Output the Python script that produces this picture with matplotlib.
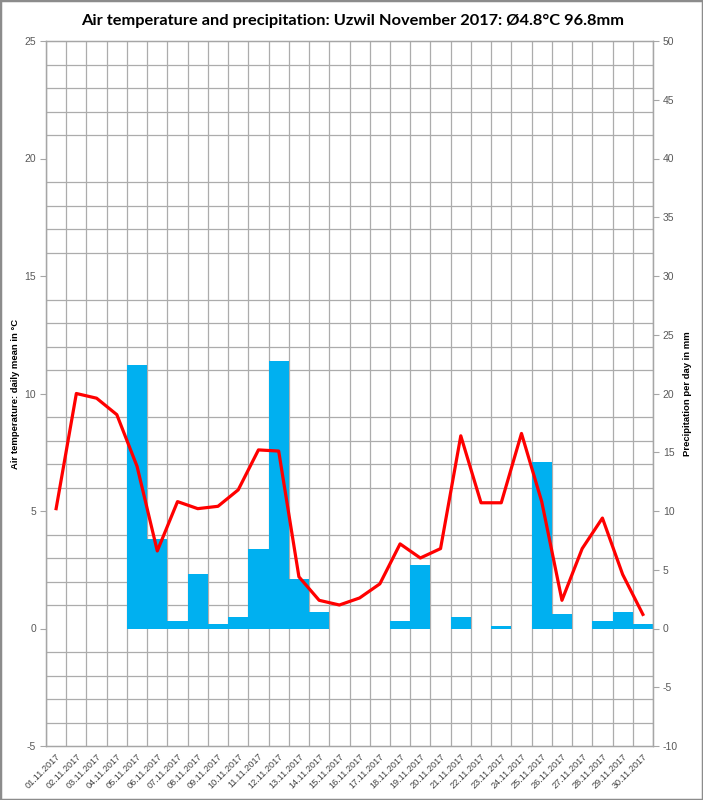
import matplotlib
matplotlib.use("Agg")
import matplotlib.pyplot as plt
from matplotlib.ticker import MultipleLocator, FixedLocator
from matplotlib.patches import Rectangle
import numpy as np

plt.rcParams["axes.unicode_minus"] = False

dates = ["%02d.11.2017" % d for d in range(1, 31)]
temperature = [5.1, 10.0, 9.8, 9.1, 6.9, 3.3, 5.4, 5.1, 5.2, 5.9,
               7.6, 7.55, 2.2, 1.2, 1.0, 1.3, 1.9, 3.6, 3.0, 3.4,
               8.2, 5.35, 5.35, 8.3, 5.4, 1.2, 3.4, 4.7, 2.3, 0.6]
precipitation = [0, 0, 0, 0, 22.4, 7.6, 0.6, 4.6, 0.4, 1.0,
                 6.8, 22.8, 4.2, 1.4, 0, 0, 0, 0.6, 5.4, 0,
                 1.0, 0, 0.2, 0, 14.2, 1.2, 0, 0.6, 1.4, 0.4]
title = "Air temperature and precipitation: Uzwil November 2017: Ø4.8°C 96.8mm"

W, H = 703, 800
fig = plt.figure(figsize=(W / 100, H / 100), dpi=100)
fig.patch.set_facecolor("white")
fig.patches.append(Rectangle((0, 0), 1, 1, transform=fig.transFigure,
                             fill=False, edgecolor="#8c8c8c", lw=2.5))

left, right, top, bottom = 46, 653, 41, 746
ax = fig.add_axes([left / W, 1 - bottom / H, (right - left) / W, (bottom - top) / H])
ax2 = ax.twinx()
x = np.arange(len(dates))

tick_kw = dict(length=4, color="#a6a6a6", labelsize=7.5, labelcolor="#595959", pad=3)
label_kw = dict(fontsize=6.8, fontweight="bold", family="Liberation Sans")

# precipitation axis (right side)
ax.bar(x, precipitation, width=1.0, color="#00B0F0", zorder=2)
ax.set_ylim(-10, 50)
ax.set_xlim(-0.5, len(dates) - 0.5)
ax.yaxis.tick_right()
ax.yaxis.set_label_position("right")
ax.yaxis.set_major_locator(MultipleLocator(5))
ax.yaxis.set_minor_locator(MultipleLocator(2))
ax.set_axisbelow(True)
ax.grid(which="minor", axis="y", color="#acacac", lw=0.9)
ax.xaxis.set_minor_locator(FixedLocator(np.arange(-0.5, len(dates), 1.0)))
ax.grid(which="minor", axis="x", color="#acacac", lw=0.9)
ax.set_xticks(x)
ax.set_xticklabels(dates, rotation=45, ha="right", rotation_mode="anchor",
                   fontsize=6.6, color="#404040", family="Liberation Sans")
ax.tick_params(axis="x", which="both", length=0, pad=4)
ax.tick_params(axis="y", which="major", **tick_kw)
ax.tick_params(axis="y", which="minor", length=0)
for lab in ax.get_yticklabels():
    lab.set_family("Liberation Sans")
ax.set_ylabel("Precipitation per day in mm", rotation=90, **label_kw)
ax.yaxis.set_label_coords(1.049, 0.5)
for s in ax.spines.values():
    s.set_color("#a6a6a6")
    s.set_linewidth(0.9)

# temperature axis (left side)
ax2.plot(x, temperature, color="#ff0000", lw=2.3, zorder=5)
ax2.set_ylim(-5, 25)
ax2.yaxis.tick_left()
ax2.yaxis.set_label_position("left")
ax2.yaxis.set_major_locator(MultipleLocator(5))
ax2.tick_params(axis="y", which="major", **tick_kw)
for lab in ax2.get_yticklabels():
    lab.set_family("Liberation Sans")
ax2.set_ylabel("Air temperature: daily mean in °C", **label_kw)
ax2.yaxis.set_label_coords(-0.043, 0.5)
for s in ax2.spines.values():
    s.set_color("#a6a6a6")
    s.set_linewidth(0.9)

fig.text(353 / W, 1 - 21 / H, title, ha="center", va="center", fontsize=11.8,
         fontweight="bold", family="Lato")

fig.savefig("out.png", dpi=100)
